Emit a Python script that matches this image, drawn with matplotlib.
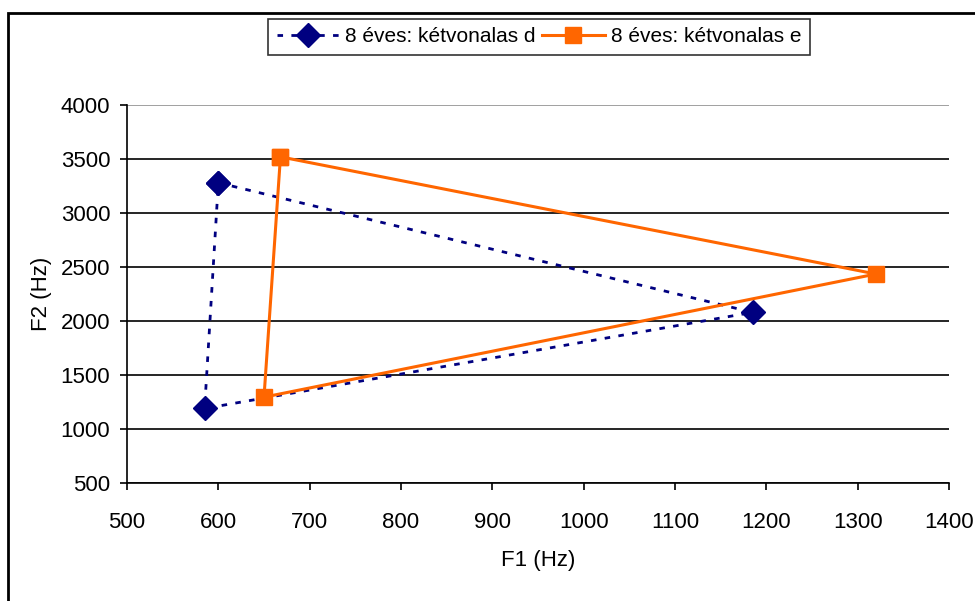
import matplotlib.pyplot as plt
from matplotlib.patches import Rectangle

plt.rcParams["font.family"] = ["Liberation Sans", "DejaVu Sans"]

# formant triangles (F1, F2) for the two vowel sets, closed back to the first point
d_f1 = [600, 1185, 585, 600]
d_f2 = [3280, 2080, 1190, 3280]
e_f1 = [668, 1320, 650, 668]
e_f2 = [3520, 2435, 1295, 3520]

d_label = "8 éves: kétvonalas d"
e_label = "8 éves: kétvonalas e"

fig = plt.figure(figsize=(9.75, 6.01), dpi=100)
ax = fig.add_axes([127 / 975, 1 - 483 / 601, (949 - 127) / 975, (483 - 105) / 601])

# chart area frame, runs off the right and bottom edge
fig.patches.append(Rectangle((8 / 975, -0.05), 1.1, 1 - 13 / 601 + 0.05,
                             transform=fig.transFigure, fill=False,
                             edgecolor="black", linewidth=2, zorder=0))

ax.plot(d_f1, d_f2, color="#000080", linestyle=(0, (2, 3)), linewidth=2,
        marker="D", markersize=12, label=d_label, zorder=3)
ax.plot(e_f1, e_f2, color="#FF6600", linestyle="-", linewidth=2.2,
        marker="s", markersize=12, label=e_label, zorder=4)

ax.set_xlim(500, 1400)
ax.set_ylim(500, 4000)
ax.set_xticks(range(500, 1401, 100))
ax.set_yticks(range(500, 4001, 500))
ax.yaxis.grid(True, color="black", linewidth=1.2)
ax.set_axisbelow(True)
ax.get_ygridlines()[-1].set_color("#909090")
for side in ("top", "right"):
    ax.spines[side].set_visible(False)
for side in ("left", "bottom"):
    ax.spines[side].set_linewidth(1.2)
ax.tick_params(labelsize=16, direction="out", length=5, width=1.2)
ax.tick_params(axis="x", pad=16)
ax.tick_params(axis="y", pad=7)

ax.set_xlabel("F1 (Hz)", fontsize=16, labelpad=12)
ax.set_ylabel("F2 (Hz)", fontsize=16, labelpad=6)

leg = fig.legend(loc="center", bbox_to_anchor=(539 / 975, 1 - 37 / 601), ncol=2,
                 fontsize=15, frameon=True, fancybox=False, edgecolor="black",
                 handlelength=3.0, columnspacing=0.3, handletextpad=0.3,
                 borderpad=0.4, handleheight=0.7)
leg.get_frame().set_linewidth(1.2)

fig.savefig("out.png", dpi=100)
